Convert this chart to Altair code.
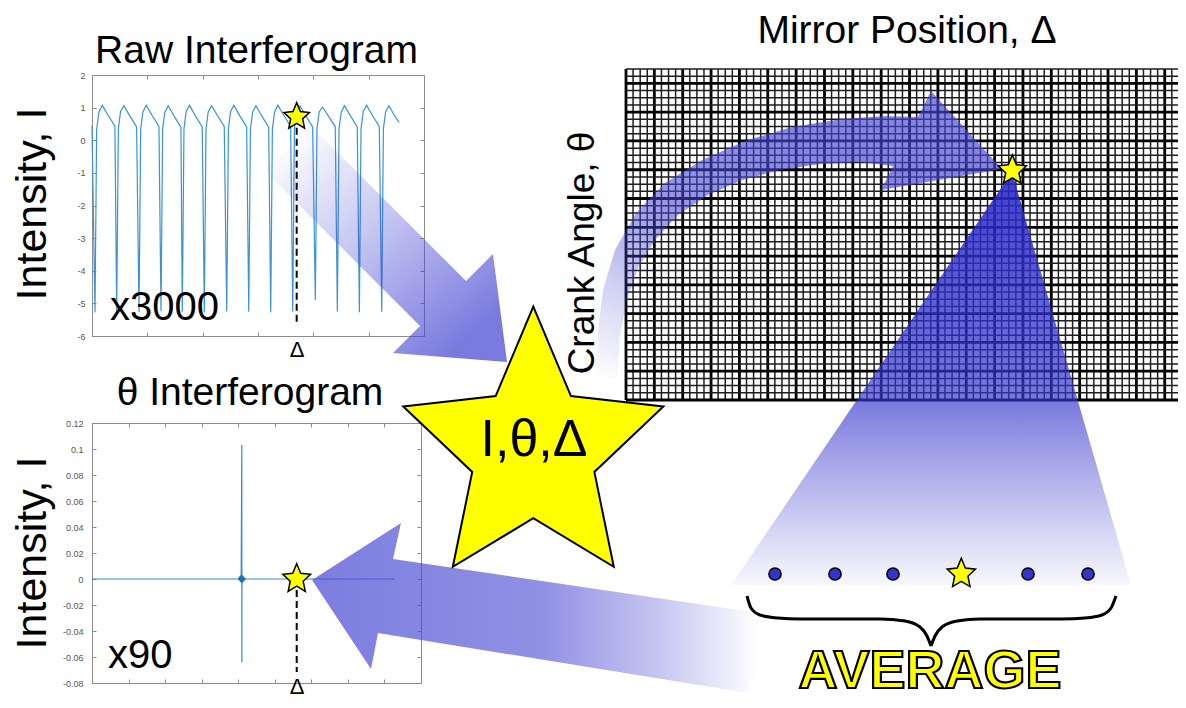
import altair as alt
import pandas as pd

W, H = 1170, 692
M = 8
FONT = "Liberation Sans"
BLUE = "#3a93d6"

# ---------------- Raw interferogram data ----------------
raw_pos = [0, 5.4, 8.4, 12.4, 18.4, 29.4, 41.4,
           44.6, 47.6, 51.6, 57.6, 68.6, 80.6,
           85.0, 88.0, 92.0, 98.0, 109.0, 121.0,
           124.7, 127.7, 131.7, 137.7, 148.7, 160.7,
           163.2, 166.2, 170.2, 176.2, 187.2, 199.2,
           203.0, 206.0, 210.0, 216.0, 227.0, 239.0,
           243.5, 246.5, 250.5, 256.5, 267.5, 279.5,
           283.3, 286.3, 290.3, 296.3, 307.3, 319.3,
           323.0, 326.0, 330.0, 336.0, 347.0, 359.0,
           362.8, 365.8, 369.8, 375.8, 386.8, 398.8,
           403.6, 406.6, 410.6, 416.6, 427.6, 439.6,
           443.4, 446.4, 450.4, 456.4, 467.4, 479.4,
           483.2, 486.2, 490.2, 496.2, 507.2, 519.2,
           523.6, 526.6, 530.6, 536.6, 547.6, 555.0]
raw_int = [0.45, -5.28, 0.33, 0.86, 1.07, 0.76, 0.43,
           -5.25, 0.35, 0.88, 1.06, 0.74, 0.41,
           -5.27, 0.34, 0.87, 1.07, 0.75, 0.42,
           -5.24, 0.36, 0.86, 1.06, 0.73, 0.40,
           -5.26, 0.35, 0.88, 1.07, 0.74, 0.41,
           -5.27, 0.34, 0.87, 1.06, 0.75, 0.42,
           -5.25, 0.36, 0.88, 1.07, 0.74, 0.41,
           -5.26, 0.35, 0.86, 1.06, 0.73, 0.40,
           -5.27, 0.34, 0.87, 1.07, 0.75, 0.42,
           -5.26, 0.35, 0.88, 1.05, 0.74, 0.41,
           -4.90, 0.36, 0.87, 1.02, 0.73, 0.42,
           -5.25, 0.35, 0.86, 1.06, 0.74, 0.41,
           -5.27, 0.34, 0.88, 1.07, 0.75, 0.42,
           -5.26, 0.35, 0.87, 1.06, 0.73, 0.55]
raw_xticks = [0, 100, 200, 300, 400, 500, 600]
raw_yticks = [-6, -5, -4, -3, -2, -1, 0, 1, 2]
raw_star_pos = [369.9]
raw_star_int = [0.72]
raw_dash_int = [0.72, -5.62]

# ---------------- Theta interferogram data ----------------
theta_pos = [0, 4.0, 4.05, 4.08, 4.098, 4.1, 4.102, 4.12, 4.16, 8.27]
theta_int = [0, 0, 0.002, -0.002, 0.103, -0.064, 0.003, -0.002, 0, 0]
theta_blob_pos = [4.1]
theta_blob_int = [0.0]
theta_xticks = [0, 1, 2, 3, 4, 5, 6, 7, 8, 9]
theta_yticks = [-0.08, -0.06, -0.04, -0.02, 0, 0.02, 0.04, 0.06, 0.08, 0.1, 0.12]
theta_star_pos = [5.6]
theta_star_int = [0.0]
theta_dash_int = [0.0, -0.0716]

# ---------------- Grid (mirror position x crank angle) ----------------
grid_cols = list(range(0, 80))
grid_rows = list(range(0, 47))

# ---------------- Diagram shapes (image pixel coordinates) ----------------
spot_x = [1012, 1131, 731]
spot_y = [172, 585, 585]
curve_x = [596, 598, 603, 615, 636, 665, 702, 745, 792, 842, 885, 918,
           931, 1002, 881, 893,
           860, 820, 780, 742, 708, 678, 655, 638, 627, 620, 617]
curve_y = [378, 330, 290, 250, 213, 183, 160, 141, 127, 119, 116, 117,
           91, 169, 190, 166,
           162, 164, 170, 180, 195, 215, 240, 268, 300, 335, 378]
rawarrow_x = [310, 466, 493, 507, 393, 420, 265]
rawarrow_y = [125, 281, 254, 362, 353, 326, 171]
tharrow_x = [312, 401, 393, 772, 748, 378, 371]
tharrow_y = [580, 523, 559, 615, 693, 633, 669]
dot_x = [775, 835, 893, 1028, 1088]
dot_y = [574, 574, 574, 574, 574]
brace_x = [747, 751, 760, 778, 800, 880, 905, 920, 927, 931,
           931, 935, 942, 957, 980, 1062, 1085, 1102, 1111, 1116]
brace_y = [596, 608, 615, 618, 619, 619, 621, 627, 636, 646,
           646, 636, 627, 621, 619, 619, 618, 615, 608, 596]
brace_half = ["L"] * 10 + ["R"] * 10

STAR = ("M0,-1L0.262,-0.378L0.905,-0.305L0.425,0.15L0.56,0.81L0,0.472"
        "L-0.56,0.81L-0.425,0.15L-0.905,-0.305L-0.262,-0.378Z")


def px(v):
    return v - M


AX = dict(domainColor="#8c8c8c", tickColor="#8c8c8c", tickSize=4, tickWidth=1,
          domainWidth=1, grid=False, title=None, zindex=0, labelFont=FONT,
          labelFontSize=9, labelColor="#555555")
LAB = "(datum.value < 0 ? '-' : '') + format(abs(datum.value), '~g')"


def panel(content, xdom, ydom, box, xticks, yticks, pad):
    l, r, t, b = [px(v) for v in box]
    xs = alt.Scale(domain=xdom, range=[l, r], nice=False, zero=False)
    ys = alt.Scale(domain=ydom, range=[b, t], nice=False, zero=False)
    frame = pd.DataFrame({"x": xdom, "y": ydom})
    axes = [
        (alt.Axis(orient="bottom", offset=b - H, values=xticks, labels=False, ticks=False, **AX),
         alt.Axis(orient="left", offset=-l, values=yticks, ticks=False, labelExpr=LAB,
                  labelPadding=pad, labelOverlap=False, **AX)),
        (alt.Axis(orient="top", offset=-b, values=xticks, labels=False, domain=False, **AX),
         alt.Axis(orient="right", offset=l - W, values=yticks, labels=False, domain=False, **AX)),
        (alt.Axis(orient="bottom", offset=t - H, values=xticks, labels=False, **AX),
         alt.Axis(orient="left", offset=-r, values=yticks, labels=False, **AX)),
    ]
    layers = []
    for xa, ya in axes:
        layers.append(alt.Chart(frame).mark_point(opacity=0).encode(
            x=alt.X("x:Q", scale=xs, axis=xa), y=alt.Y("y:Q", scale=ys, axis=ya)))
    for c in content:
        layers.append(c(xs, ys))
    return alt.layer(*layers).resolve_axis(x="independent", y="independent")


def line_layer(xs_, ys_, **kw):
    d = pd.DataFrame({"x": xs_, "y": ys_, "k": list(range(len(xs_)))})
    return lambda xs, ys: alt.Chart(d).mark_line(**kw).encode(
        x=alt.X("x:Q", scale=xs, axis=None), y=alt.Y("y:Q", scale=ys, axis=None), order="k:Q")


def point_layer(xs_, ys_, **kw):
    d = pd.DataFrame({"x": xs_, "y": ys_})
    return lambda xs, ys: alt.Chart(d).mark_point(**kw).encode(
        x=alt.X("x:Q", scale=xs, axis=None), y=alt.Y("y:Q", scale=ys, axis=None))


raw_panel = panel(
    [line_layer(raw_pos, raw_int, color=BLUE, strokeWidth=1.2),
     line_layer(raw_star_pos * 2, raw_dash_int, color="black", strokeWidth=2, strokeDash=[7, 4]),
     point_layer(raw_star_pos, raw_star_int, shape=STAR, size=795, filled=True, fill="#ffff00",
                 stroke="black", strokeWidth=1.5, opacity=1)],
    [0, 600], [-6, 2], (92, 424, 75, 336), raw_xticks, raw_yticks, 7)

theta_panel = panel(
    [line_layer(theta_pos, theta_int, color="#3a8ad3", strokeWidth=1.2),
     point_layer(theta_blob_pos, theta_blob_int, shape="diamond", size=70, filled=True,
                 fill="#1f6fb8", strokeWidth=0, opacity=1),
     line_layer(theta_star_pos * 2, theta_dash_int, color="black", strokeWidth=2, strokeDash=[7, 4]),
     point_layer(theta_star_pos, theta_star_int, shape=STAR, size=936, filled=True, fill="#ffff00",
                 stroke="black", strokeWidth=1.5, opacity=1)],
    [0, 9], [-0.08, 0.12], (92, 421, 423, 683), theta_xticks, theta_yticks, 9)

# ---------------- Grid layer ----------------
gx = alt.Scale(domain=[0, 79], range=[px(626), px(1186)], nice=False, zero=False)
gy = alt.Scale(domain=[0, 46], range=[px(69), px(400)], nice=False, zero=False)
vdf = pd.DataFrame({"i": grid_cols, "a": 0, "b": 46})
hdf = pd.DataFrame({"j": grid_rows, "a": 0, "b": 79})
vrules = alt.Chart(vdf).mark_rule().encode(
    x=alt.X("i:Q", scale=gx, axis=None), y=alt.Y("a:Q", scale=gy, axis=None), y2="b:Q",
    strokeWidth=alt.condition("datum.i % 4 == 0", alt.value(2.8), alt.value(1.5)),
    color=alt.condition("datum.i % 4 == 0", alt.value("#000000"), alt.value("#1e1e1e")))
hrules = alt.Chart(hdf).mark_rule().encode(
    y=alt.Y("j:Q", scale=gy, axis=None), x=alt.X("a:Q", scale=gx, axis=None), x2="b:Q",
    strokeWidth=alt.condition("datum.j % 4 == 2", alt.value(2.8), alt.value(1.5)),
    color=alt.condition("datum.j % 4 == 2", alt.value("#000000"), alt.value("#1e1e1e")))
grid = alt.layer(vrules, hrules)

# ---------------- Decorations (image pixel canvas) ----------------
cx = alt.Scale(domain=[M, W + M], range=[0, W], nice=False, zero=False)
cy = alt.Scale(domain=[M, H + M], range=[0, H], nice=False, zero=False)


def X():
    return alt.X("x:Q", scale=cx, axis=None)


def Y():
    return alt.Y("y:Q", scale=cy, axis=None)


def grad(stops, x1, y1, x2, y2):
    return alt.LinearGradient(gradient="linear",
                              stops=[alt.GradientStop(color=c, offset=o) for o, c in stops],
                              x1=x1, y1=y1, x2=x2, y2=y2)


def polygon(xs_, ys_, fill):
    d = pd.DataFrame({"x": xs_, "y": ys_, "k": list(range(len(xs_)))})
    return alt.Chart(d).mark_line(interpolate="linear-closed", fill=fill, strokeOpacity=0).encode(
        x=X(), y=Y(), order="k:Q")


def text(xs_, ys_, ts, size, **kw):
    d = pd.DataFrame({"x": xs_, "y": ys_, "t": ts})
    return alt.Chart(d).mark_text(font=FONT, fontSize=size, **kw).encode(x=X(), y=Y(), text="t:N")


spot = polygon(spot_x, spot_y, grad([(0, "rgba(40,40,200,0.9)"), (0.55, "rgba(55,55,205,0.68)"),
                                     (0.8, "rgba(80,80,212,0.36)"), (1, "rgba(100,100,215,0.05)")],
                                    0, 0, 0, 1))
curve = polygon(curve_x, curve_y, grad([(0, "rgba(70,70,210,0)"), (0.3, "rgba(70,70,210,0.25)"),
                                        (0.6, "rgba(70,70,210,0.55)"), (1, "rgba(70,70,210,0.66)")],
                                       0, 1, 0.55, 0.2))
rawarrow = polygon(rawarrow_x, rawarrow_y, grad([(0, "rgba(70,70,210,0)"), (0.45, "rgba(70,70,210,0.3)"),
                                                 (1, "rgba(70,70,210,0.72)")], 0.1, 0.05, 0.85, 0.9))
tharrow = polygon(tharrow_x, tharrow_y, grad([(0, "rgba(70,70,210,0.7)"), (0.5, "rgba(70,70,210,0.6)"),
                                              (0.78, "rgba(70,70,210,0.28)"), (0.97, "rgba(70,70,210,0)"),
                                              (1, "rgba(70,70,210,0)")],
                                             0, 0, 1, 0))
big_star = alt.Chart(pd.DataFrame({"x": [533.3], "y": [450.4]})).mark_point(
    shape=STAR, size=82600, filled=True, fill="#ffff00", stroke="black", strokeWidth=2, opacity=1
).encode(x=X(), y=Y())
small_stars = alt.Chart(pd.DataFrame({"x": [1012.3, 961.3], "y": [170.6, 573.9]})).mark_point(
    shape=STAR, size=975, filled=True, fill="#ffff00", stroke="black", strokeWidth=1.5, opacity=1
).encode(x=X(), y=Y())
dots = alt.Chart(pd.DataFrame({"x": dot_x, "y": dot_y})).mark_point(
    shape="circle", size=150, filled=True, fill="#3434c8", stroke="black", strokeWidth=1.5, opacity=1
).encode(x=X(), y=Y())
brace = alt.Chart(pd.DataFrame({"x": brace_x, "y": brace_y, "h": brace_half,
                                "k": list(range(len(brace_x)))})).mark_line(
    interpolate="monotone", color="black", strokeWidth=3).encode(
    x=X(), y=Y(), detail="h:N", order="k:Q")

titles = text([256.5, 907, 250], [63, 43, 405],
              ["Raw Interferogram", "Mirror Position, Δ", "θ Interferogram"], 39,
              baseline="alphabetic", align="center", color="black")
ylabels = text([33, 33], [204, 553], ["Intensity, I", "Intensity, I"], 43,
               angle=270, baseline="middle", align="center", color="black")
crank = text([583], [253], ["Crank Angle, θ"], 37, angle=270, baseline="middle",
             align="center", color="black")
mult = text([110, 108], [320, 668], ["x3000", "x90"], 40, baseline="alphabetic",
            align="left", color="black")
deltas = text([297, 297], [357, 694], ["Δ", "Δ"], 22, baseline="alphabetic",
              align="center", color="black")
star_txt = text([534], [456], ["I,θ,Δ"], 52, baseline="alphabetic", align="center", color="black")
average = text([930], [688], ["AVERAGE"], 54, baseline="alphabetic", align="center",
               fontWeight="bold", color="#ffff00", stroke="black", strokeWidth=2.2)

deco = alt.layer(spot, curve, rawarrow, tharrow, big_star, star_txt, small_stars, dots, brace,
                 titles, ylabels, crank, mult, deltas, average)

chart = alt.layer(raw_panel, theta_panel, grid, deco).resolve_scale(
    x="independent", y="independent"
).properties(
    width=W, height=H, padding=0, autosize=alt.AutoSizeParams(type="none")
).configure_view(strokeWidth=0)

chart.save("out.html", embed_options={"renderer": "svg", "actions": False})
